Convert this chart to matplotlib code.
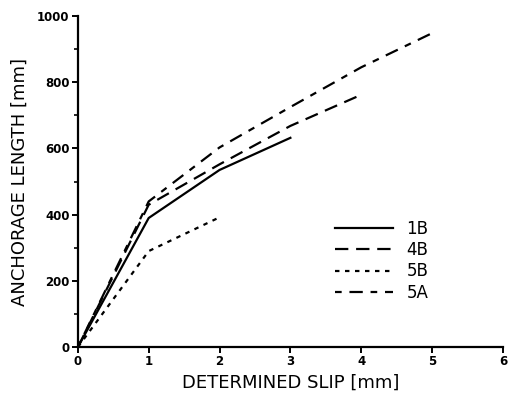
import matplotlib
matplotlib.use("Agg")
import matplotlib.pyplot as plt
from matplotlib.ticker import MultipleLocator

slip_1B = [0, 1, 2, 3]
len_1B = [0, 390, 535, 632]
slip_4B = [0, 1, 2, 3, 4]
len_4B = [0, 430, 552, 668, 762]
slip_5B = [0, 1, 2]
len_5B = [0, 290, 392]
slip_5A = [0, 1, 2, 3, 4, 5]
len_5A = [0, 440, 603, 725, 845, 948]

x_ticks = [0, 1, 2, 3, 4, 5, 6]
y_ticks = [0, 200, 400, 600, 800, 1000]

fig = plt.figure(figsize=(5.09, 3.99), dpi=100)
ax = fig.add_axes([0.153, 0.130, 0.835, 0.830])

lw = 1.6
ax.plot(slip_1B, len_1B, color="black", lw=lw, linestyle="-", label="1B")
ax.plot(slip_4B, len_4B, color="black", lw=lw, linestyle=(0, (6, 3.5)), label="4B")
ax.plot(slip_5B, len_5B, color="black", lw=lw, linestyle=(0, (2, 2.5)), label="5B")
ax.plot(slip_5A, len_5A, color="black", lw=lw, linestyle=(0, (3, 3.5, 6, 3.5)), label="5A")

ax.set_xlim(0, 6)
ax.set_ylim(0, 1000)
ax.set_xticks(x_ticks)
ax.set_yticks(y_ticks)
ax.yaxis.set_minor_locator(MultipleLocator(100))
ax.spines["top"].set_visible(False)
ax.spines["right"].set_visible(False)
ax.spines["left"].set_linewidth(1.6)
ax.spines["bottom"].set_linewidth(1.6)
ax.tick_params(axis="both", which="major", length=4, width=1.4, labelsize=8.5, pad=2)
ax.tick_params(axis="y", which="minor", length=3, width=1.2)
for t in ax.get_xticklabels() + ax.get_yticklabels():
    t.set_fontweight("bold")

ax.set_xlabel("DETERMINED SLIP [mm]", fontsize=13, labelpad=4)
ax.set_ylabel("ANCHORAGE LENGTH [mm]", fontsize=13, labelpad=6)

leg = ax.legend(loc="upper left", bbox_to_anchor=(0.585, 0.41), frameon=False,
                fontsize=12, handlelength=3.5, labelspacing=0.2, handletextpad=0.8,
                borderpad=0)

fig.savefig("out.png", dpi=100)
